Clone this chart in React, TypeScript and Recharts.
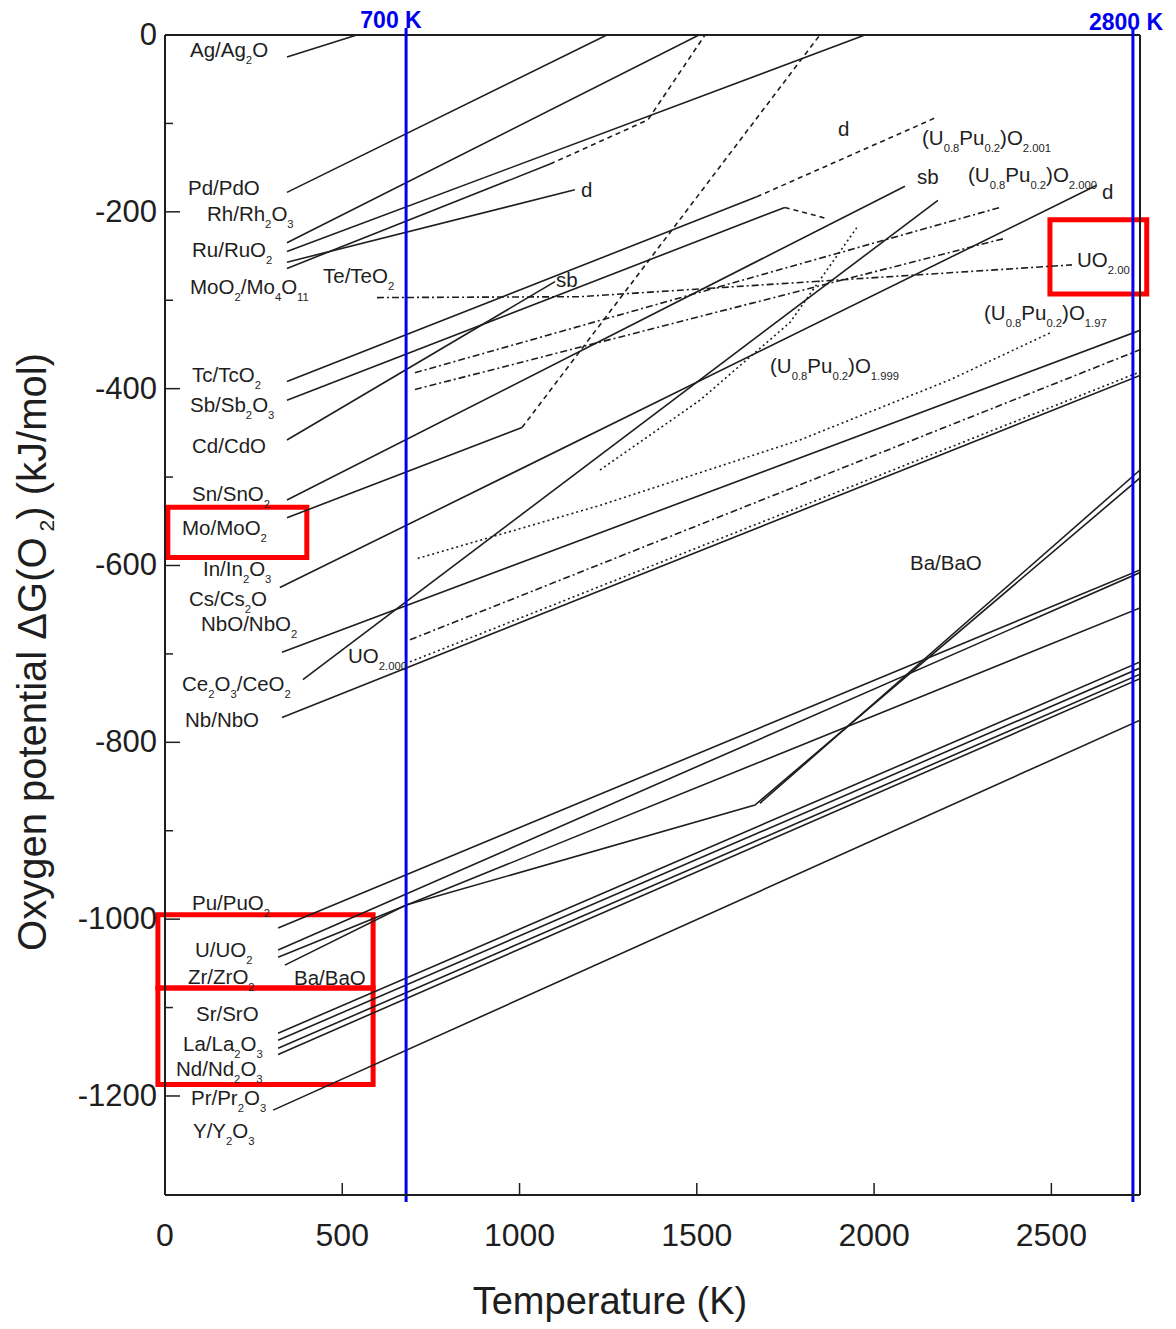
import React from 'react'
import { LineChart, Line, XAxis, YAxis, ReferenceLine, ReferenceArea } from 'recharts'

type P = [number, number]
const pts = (a: P[]) => a.map(([t, g]) => ({ t, g }))

// [temperature K, oxygen potential kJ/mol]
const agAg2O: P[] = [[344, -25], [541, 0]]
const pdPdO: P[] = [[344, -178], [1246, 0]]
const rhRh2O3: P[] = [[344, -235], [1506, 0]]
const ruRuO2: P[] = [[344, -245], [1974, 0]]
const teTeO2: P[] = [[344, -257], [1156, -175]]
const moO2Mo4O11: P[] = [[344, -264], [1086, -146]]
const moO2Mo4O11Gas: P[] = [[1086, -146], [1362, -96], [1523, 0]]
const tcTcO2: P[] = [[344, -392], [1669, -183]]
const tcTcO2Gas: P[] = [[1669, -183], [2171, -94]]
const sbSb2O3: P[] = [[344, -413], [1748, -195]]
const sbSb2O3Gas: P[] = [[1748, -195], [1861, -207]]
const cdCdO: P[] = [[344, -458], [1100, -279]]
const snSnO2: P[] = [[344, -526], [2087, -171]]
const moMoO2: P[] = [[344, -546], [1007, -444]]
const moMoO2Gas: P[] = [[1007, -444], [1847, 0]]
const inIn2O3: P[] = [[324, -625], [2628, -170]]
const ce2O3CeO2: P[] = [[389, -729], [2180, -187]]
const nboNbO2: P[] = [[330, -698], [2750, -334]]
const nbNbO: P[] = [[330, -772], [2750, -385]]
const puPuO2: P[] = [[319, -1010], [2750, -605]]
const uUO2: P[] = [[319, -1035], [2750, -608]]
const zrZrO2: P[] = [[319, -1043], [2750, -648]]
const baBaO: P[] = [[338, -1052], [680, -984], [1664, -871], [2750, -501]]
const baBaO2: P[] = [[1678, -869], [2750, -492]]
const srSrO: P[] = [[319, -1129], [2750, -709]]
const laLa2O3: P[] = [[319, -1137], [2750, -716]]
const ndNd2O3: P[] = [[319, -1146], [2750, -723]]
const prPr2O3: P[] = [[319, -1153], [2750, -728]]
const yY2O3: P[] = [[305, -1216], [2750, -775]]

// fuel oxygen potentials
const uo200: P[] = [[598, -297], [1170, -296], [2558, -260]]
const mox2001: P[] = [[705, -382], [2355, -195]]
const mox2000: P[] = [[705, -401], [2369, -230]]
const mox1999: P[] = [[1227, -492], [1509, -413], [1763, -325], [1951, -218]]
const mox197: P[] = [[713, -592], [1227, -532], [1791, -458], [2214, -390], [2496, -337]]
const uo2000a: P[] = [[691, -684], [2750, -356]]
const uo2000b: P[] = [[691, -709], [2750, -381]]

const X_TICKS = [0, 500, 1000, 1500, 2000, 2500]
const Y_TICKS = [0, -100, -200, -300, -400, -500, -600, -700, -800, -900, -1000, -1100, -1200]

type Style = 'solid' | 'dash' | 'dashdot' | 'dot'
const SERIES: [string, P[], Style][] = [
  ['Ag/Ag2O', agAg2O, 'solid'], ['Pd/PdO', pdPdO, 'solid'], ['Rh/Rh2O3', rhRh2O3, 'solid'],
  ['Ru/RuO2', ruRuO2, 'solid'], ['Te/TeO2', teTeO2, 'solid'], ['MoO2/Mo4O11', moO2Mo4O11, 'solid'],
  ['MoO2/Mo4O11 g', moO2Mo4O11Gas, 'dash'], ['Tc/TcO2', tcTcO2, 'solid'], ['Tc/TcO2 d', tcTcO2Gas, 'dash'],
  ['Sb/Sb2O3', sbSb2O3, 'solid'], ['Sb/Sb2O3 g', sbSb2O3Gas, 'dash'], ['Cd/CdO', cdCdO, 'solid'],
  ['Sn/SnO2', snSnO2, 'solid'], ['Mo/MoO2', moMoO2, 'solid'], ['Mo/MoO2 g', moMoO2Gas, 'dash'],
  ['In/In2O3', inIn2O3, 'solid'], ['Ce2O3/CeO2', ce2O3CeO2, 'solid'], ['NbO/NbO2', nboNbO2, 'solid'],
  ['Nb/NbO', nbNbO, 'solid'], ['Pu/PuO2', puPuO2, 'solid'], ['U/UO2', uUO2, 'solid'],
  ['Zr/ZrO2', zrZrO2, 'solid'], ['Ba/BaO', baBaO, 'solid'], ['Ba/BaO 2', baBaO2, 'solid'],
  ['Sr/SrO', srSrO, 'solid'], ['La/La2O3', laLa2O3, 'solid'], ['Nd/Nd2O3', ndNd2O3, 'solid'],
  ['Pr/Pr2O3', prPr2O3, 'solid'], ['Y/Y2O3', yY2O3, 'solid'],
  ['UO2.00', uo200, 'dashdot'], ['(U,Pu)O2.001', mox2001, 'dashdot'], ['(U,Pu)O2.000', mox2000, 'dashdot'],
  ['(U,Pu)O1.999', mox1999, 'dot'], ['(U,Pu)O1.97', mox197, 'dot'],
  ['UO2.000 a', uo2000a, 'dashdot'], ['UO2.000 b', uo2000b, 'dot'],
]
const DASH: Record<Style, string | undefined> = {
  solid: undefined, dash: '5 4', dashdot: '7 3 2 3', dot: '2 3',
}

// text labels: [text, left x, centre y]; "_" starts a subscript
const LABELS: [string, number, number][] = [
  ['Ag/Ag_2O', 190, 50], ['Pd/PdO', 188, 188], ['Rh/Rh_2O_3', 207, 214], ['Ru/RuO_2', 192, 250],
  ['MoO_2/Mo_4O_11', 190, 287], ['Te/TeO_2', 323, 276], ['d', 581, 190], ['sb', 556, 280],
  ['d', 838, 129], ['sb', 917, 177], ['d', 1102, 192],
  ['(U_0.8Pu_0.2)O_2.001', 922, 138], ['(U_0.8Pu_0.2)O_2.000', 968, 175], ['UO_2.00', 1077, 260],
  ['(U_0.8Pu_0.2)O_1.97', 984, 313], ['(U_0.8Pu_0.2)O_1.999', 770, 366],
  ['Tc/TcO_2', 192, 375], ['Sb/Sb_2O_3', 190, 405], ['Cd/CdO', 192, 446], ['Sn/SnO_2', 192, 494],
  ['Mo/MoO_2', 182, 528], ['In/In_2O_3', 203, 569], ['Cs/Cs_2O', 189, 599], ['NbO/NbO_2', 201, 624],
  ['UO_2.000', 348, 656], ['Ce_2O_3/CeO_2', 182, 684], ['Nb/NbO', 185, 720], ['Ba/BaO', 910, 563],
  ['Pu/PuO_2', 192, 903], ['U/UO_2', 195, 950], ['Zr/ZrO_2', 188, 977], ['Ba/BaO', 294, 978],
  ['Sr/SrO', 196, 1014], ['La/La_2O_3', 183, 1044], ['Nd/Nd_2O_3', 176, 1069],
  ['Pr/Pr_2O_3', 191, 1098], ['Y/Y_2O_3', 193, 1131],
]

// highlight boxes [T1, T2, G1, G2]
const BOXES: [number, number, number, number][] = [
  [8, 400, -534, -591], [-20, 587, -995, -1078], [-20, 587, -1078, -1187], [2496, 2769, -209, -293],
]
const MARKERS: [number, string][] = [[680, '700 K'], [2730, '2800 K']]

const FONT = '"Liberation Sans", Arial, sans-serif'
const INK = '#1e1e1e'

function Chem({ text, x, y, size = 20.5 }: { text: string; x: number; y: number; size?: number }) {
  const parts = text.split(/(_[0-9.]+)/).filter(Boolean)
  const off = size * 0.3
  return (
    <text x={x} y={y + size * 0.36} fontSize={size} fontFamily={FONT} fill={INK}>
      {parts.map((p, i) => {
        const prevSub = i > 0 && parts[i - 1].startsWith('_')
        if (p.startsWith('_'))
          return <tspan key={i} fontSize={size * 0.55} dy={off}>{p.slice(1)}</tspan>
        return <tspan key={i} dy={prevSub ? -off : 0}>{p}</tspan>
      })}
    </text>
  )
}

const XTick = ({ x, y, payload }: any) => (
  <g>
    {payload.value !== 0 && <line x1={x} y1={y} x2={x} y2={y - 12} stroke={INK} strokeWidth={1.5} />}
    <text x={x} y={y + 51} textAnchor="middle" fontSize={32} fontFamily={FONT} fill={INK}>{payload.value}</text>
  </g>
)

const YTick = ({ x, y, payload }: any) => {
  const major = payload.value % 200 === 0
  return (
    <g>
      <line x1={x} y1={y} x2={x + (major ? 15 : 8)} y2={y} stroke={INK} strokeWidth={1.5} />
      {major && (
        <text x={x - 8} y={y + 10} textAnchor="end" fontSize={31} fontFamily={FONT} fill={INK}>{payload.value}</text>
      )}
    </g>
  )
}

export default function App() {
  return (
    <div style={{ position: 'absolute', left: 0, top: 0, width: 1176, height: 1329, background: '#fff' }}>
      <LineChart width={1176} height={1329} margin={{ top: 35, right: 36, bottom: 74, left: 0 }}>
        <XAxis
          type="number" dataKey="t" domain={[0, 2750]} ticks={X_TICKS} interval={0}
          height={60} tickSize={0} tickMargin={0} tick={<XTick />}
          axisLine={{ stroke: INK, strokeWidth: 2 }} allowDataOverflow
        />
        <YAxis
          type="number" dataKey="g" domain={[-1312, 0]} ticks={Y_TICKS} interval={0}
          width={165} tickSize={0} tickMargin={0} tick={<YTick />}
          axisLine={{ stroke: INK, strokeWidth: 2 }} allowDataOverflow
        />
        <ReferenceLine y={0} stroke={INK} strokeWidth={2} />
        <ReferenceLine x={2750} stroke={INK} strokeWidth={2} />
        {SERIES.map(([name, d, s]) => (
          <Line
            key={name} name={name} data={pts(d)} dataKey="g" type="linear"
            stroke={INK} strokeWidth={1.6} strokeDasharray={DASH[s]}
            dot={false} activeDot={false} isAnimationActive={false}
          />
        ))}
        {BOXES.map(([x1, x2, y1, y2], i) => (
          <ReferenceArea
            key={i} x1={x1} x2={x2} y1={y1} y2={y2} ifOverflow="visible"
            fill="none" fillOpacity={0} stroke="#ff0000" strokeWidth={5}
          />
        ))}
        {MARKERS.map(([t]) => (
          <ReferenceLine
            key={t} ifOverflow="visible" stroke="#0000ee" strokeWidth={3}
            segment={[{ x: t, y: 8 }, { x: t, y: -1320 }]}
          />
        ))}
      </LineChart>
      <svg width={1176} height={1329} style={{ position: 'absolute', left: 0, top: 0, pointerEvents: 'none' }}>
        {LABELS.map(([t, x, y], i) => <Chem key={i} text={t} x={x} y={y} />)}
        <text x={391} y={28} textAnchor="middle" fontSize={23} fontWeight="bold" fontFamily={FONT} fill="#0000ee">{MARKERS[0][1]}</text>
        <text x={1126} y={30} textAnchor="middle" fontSize={23} fontWeight="bold" fontFamily={FONT} fill="#0000ee">{MARKERS[1][1]}</text>
        <text x={610} y={1314} textAnchor="middle" fontSize={38} fontFamily={FONT} fill={INK}>Temperature (K)</text>
        <text transform="translate(46,652) rotate(-90)" textAnchor="middle" fontSize={40} fontFamily={FONT} fill={INK}>
          Oxygen potential ΔG(O<tspan fontSize={21} dx={6} dy={8}>2</tspan><tspan dy={-8}>) (kJ/mol)</tspan>
        </text>
      </svg>
    </div>
  )
}
